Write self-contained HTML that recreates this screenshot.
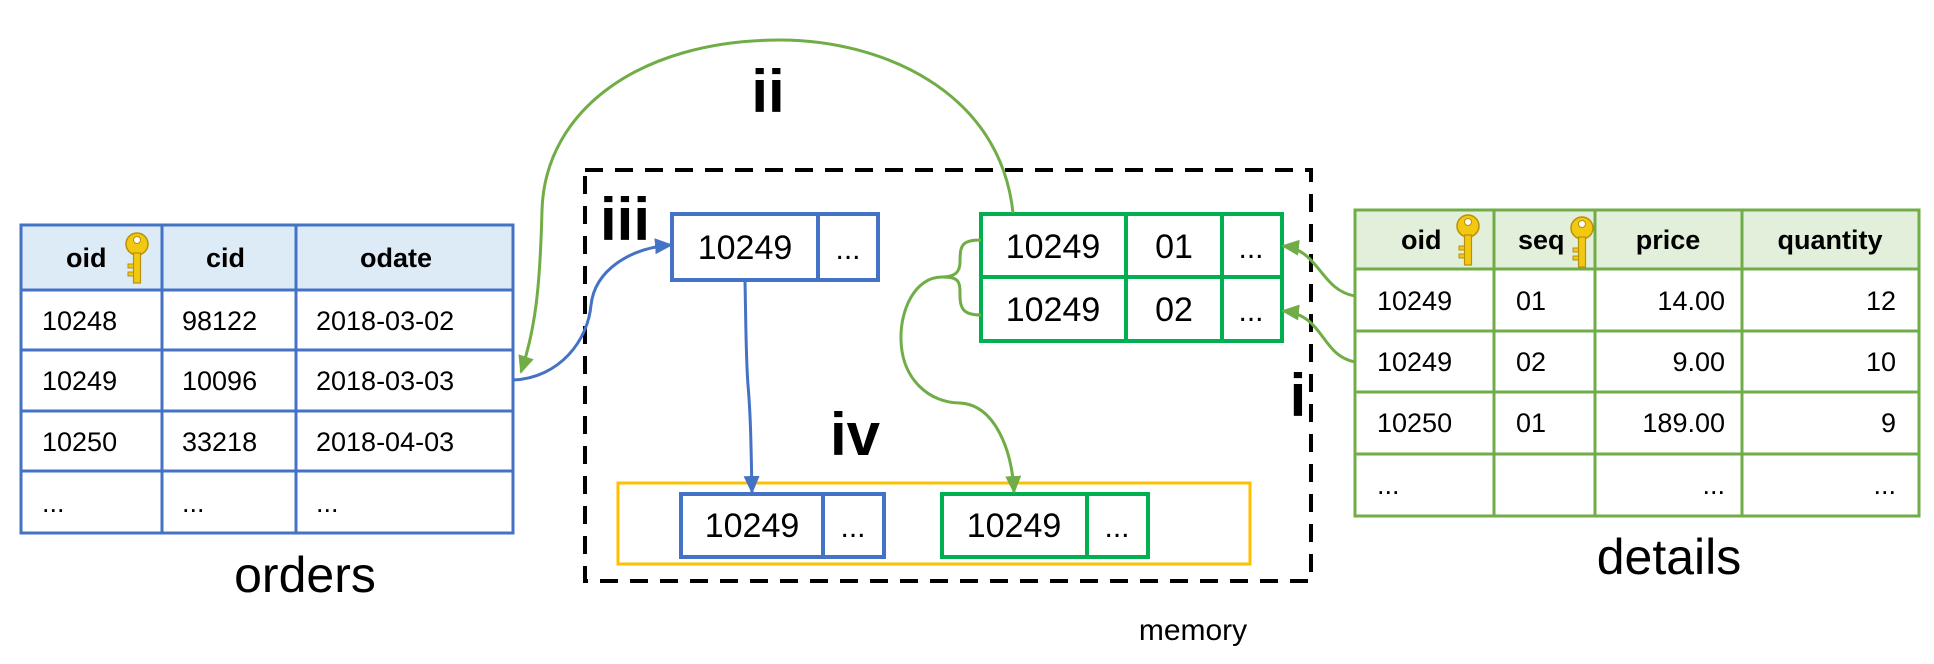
<!DOCTYPE html>
<html><head><meta charset="utf-8"><style>
html,body{margin:0;padding:0;background:#fff;}
svg{display:block;}
text{font-family:"Liberation Sans","DejaVu Sans",sans-serif;}
</style></head><body>
<svg width="1934" height="664" viewBox="0 0 1934 664" xmlns="http://www.w3.org/2000/svg">
<defs>
<g id="key">
<circle cx="0" cy="0" r="11" fill="#f2c811" stroke="#b8900a" stroke-width="1.5"/>
<circle cx="0" cy="-4" r="3.5" fill="#fff" stroke="#b8900a" stroke-width="1"/>
<rect x="-3.5" y="9" width="7" height="30" fill="#f2c811" stroke="#b8900a" stroke-width="1.2"/>
<rect x="-9" y="20" width="5.5" height="4" fill="#f2c811" stroke="#b8900a" stroke-width="1"/>
<rect x="-9" y="28" width="5.5" height="4" fill="#f2c811" stroke="#b8900a" stroke-width="1"/>
</g>
<marker id="ag" markerWidth="18" markerHeight="16" refX="16" refY="8" orient="auto" markerUnits="userSpaceOnUse" viewBox="0 0 18 16"><path d="M0,0 L18,8 L0,16 z" fill="#70ad47"/></marker>
<marker id="ab" markerWidth="18" markerHeight="16" refX="16" refY="8" orient="auto" markerUnits="userSpaceOnUse" viewBox="0 0 18 16"><path d="M0,0 L18,8 L0,16 z" fill="#4472c4"/></marker>
</defs>

<!-- orders table -->
<rect x="21" y="225" width="492" height="65" fill="#ddebf7"/>
<g stroke="#4472c4" stroke-width="3" fill="none">
<rect x="21" y="225" width="492" height="308"/>
<line x1="162" y1="225" x2="162" y2="533"/><line x1="296" y1="225" x2="296" y2="533"/>
<line x1="21" y1="290" x2="513" y2="290"/><line x1="21" y1="350" x2="513" y2="350"/>
<line x1="21" y1="411" x2="513" y2="411"/><line x1="21" y1="471" x2="513" y2="471"/>
</g>
<g font-size="27" fill="#000">
<text x="66" y="267" font-weight="bold">oid</text>
<text x="206" y="267" font-weight="bold">cid</text>
<text x="360" y="267" font-weight="bold">odate</text>
<text x="42" y="330">10248</text><text x="182" y="330">98122</text><text x="316" y="330">2018-03-02</text>
<text x="42" y="390">10249</text><text x="182" y="390">10096</text><text x="316" y="390">2018-03-03</text>
<text x="42" y="451">10250</text><text x="182" y="451">33218</text><text x="316" y="451">2018-04-03</text>
<text x="42" y="512">...</text><text x="182" y="512">...</text><text x="316" y="512">...</text>
</g>
<use href="#key" x="137" y="244"/>
<text x="305" y="592" font-size="50" text-anchor="middle">orders</text>

<!-- details table -->
<rect x="1355" y="210" width="564" height="59" fill="#e2efda"/>
<g stroke="#70ad47" stroke-width="3" fill="none">
<rect x="1355" y="210" width="564" height="306"/>
<line x1="1494" y1="210" x2="1494" y2="516"/><line x1="1595" y1="210" x2="1595" y2="516"/><line x1="1742" y1="210" x2="1742" y2="516"/>
<line x1="1355" y1="269" x2="1919" y2="269"/><line x1="1355" y1="331" x2="1919" y2="331"/>
<line x1="1355" y1="392" x2="1919" y2="392"/><line x1="1355" y1="454" x2="1919" y2="454"/>
</g>
<g font-size="27" fill="#000">
<text x="1401" y="249" font-weight="bold">oid</text>
<text x="1518" y="249" font-weight="bold">seq</text>
<text x="1668" y="249" font-weight="bold" text-anchor="middle">price</text>
<text x="1830" y="249" font-weight="bold" text-anchor="middle">quantity</text>
<text x="1377" y="310">10249</text><text x="1516" y="310">01</text><text x="1725" y="310" text-anchor="end">14.00</text><text x="1896" y="310" text-anchor="end">12</text>
<text x="1377" y="371">10249</text><text x="1516" y="371">02</text><text x="1725" y="371" text-anchor="end">9.00</text><text x="1896" y="371" text-anchor="end">10</text>
<text x="1377" y="432">10250</text><text x="1516" y="432">01</text><text x="1725" y="432" text-anchor="end">189.00</text><text x="1896" y="432" text-anchor="end">9</text>
<text x="1377" y="494">...</text><text x="1725" y="494" text-anchor="end">...</text><text x="1896" y="494" text-anchor="end">...</text>
</g>
<use href="#key" x="1468" y="226"/>
<use href="#key" x="1582" y="228"/>
<text x="1669" y="574" font-size="50" text-anchor="middle">details</text>

<!-- memory dashed box -->
<rect x="585" y="170" width="726" height="411" fill="none" stroke="#000" stroke-width="4" stroke-dasharray="18 12"/>
<text x="1193" y="640" font-size="30" text-anchor="middle">memory</text>

<!-- labels -->
<g font-weight="bold" font-size="60" fill="#000">
<text x="768" y="112" text-anchor="middle">ii</text>
<text x="625" y="240" text-anchor="middle">iii</text>
<text x="1298" y="416" text-anchor="middle">i</text>
<text x="855" y="455" text-anchor="middle">iv</text>
</g>

<!-- blue box top -->
<g stroke="#4472c4" stroke-width="4" fill="#fff">
<rect x="672" y="214" width="206" height="66"/>
<line x1="818" y1="214" x2="818" y2="280"/>
</g>
<text x="745" y="259" font-size="34" text-anchor="middle">10249</text>
<text x="848" y="259" font-size="30" text-anchor="middle">...</text>

<!-- green box top -->
<g stroke="#00b050" stroke-width="4" fill="#fff">
<rect x="981" y="214" width="301" height="127"/>
<line x1="981" y1="277" x2="1282" y2="277"/>
<line x1="1126" y1="214" x2="1126" y2="341"/>
<line x1="1222" y1="214" x2="1222" y2="341"/>
</g>
<g font-size="34" text-anchor="middle">
<text x="1053" y="258">10249</text><text x="1174" y="258">01</text><text x="1251" y="258" font-size="30">...</text>
<text x="1053" y="321">10249</text><text x="1174" y="321">02</text><text x="1251" y="321" font-size="30">...</text>
</g>

<!-- yellow box -->
<rect x="618" y="483" width="632" height="81" fill="none" stroke="#ffc000" stroke-width="3"/>
<g stroke="#4472c4" stroke-width="4" fill="#fff">
<rect x="681" y="494" width="203" height="63"/><line x1="823" y1="494" x2="823" y2="557"/>
</g>
<text x="752" y="537" font-size="34" text-anchor="middle">10249</text>
<text x="853" y="537" font-size="30" text-anchor="middle">...</text>
<g stroke="#00b050" stroke-width="4" fill="#fff">
<rect x="942" y="494" width="206" height="63"/><line x1="1087" y1="494" x2="1087" y2="557"/>
</g>
<text x="1014" y="537" font-size="34" text-anchor="middle">10249</text>
<text x="1117" y="537" font-size="30" text-anchor="middle">...</text>

<!-- connectors -->
<g fill="none" stroke-width="3">
<path d="M1013,213 C1000,90 880,40 780,40 C640,40 545,110 542,210 C540,290 535,330 521,372" stroke="#70ad47" marker-end="url(#ag)"/>
<path d="M513,380 C560,378 588,340 591,305 C595,270 630,248 671,245" stroke="#4472c4" marker-end="url(#ab)"/>
<path d="M745,281 C746,330 746,360 748,385 C751,420 751,450 752,492" stroke="#4472c4" marker-end="url(#ab)"/>
<path d="M981,240 C962,240 960,245 960,262 C960,272 955,277 942,277 C960,277 960,282 960,296 C960,310 965,315 981,315" stroke="#70ad47"/>
<path d="M942,277 C915,277 900,310 901,340 C902,380 930,403 960,403 C995,405 1012,450 1014,492" stroke="#70ad47" marker-end="url(#ag)"/>
<path d="M1355,296 C1320,290 1320,250 1283,246" stroke="#70ad47" marker-end="url(#ag)"/>
<path d="M1355,362 C1320,355 1325,315 1283,311" stroke="#70ad47" marker-end="url(#ag)"/>
</g>
</svg>
</body></html>
